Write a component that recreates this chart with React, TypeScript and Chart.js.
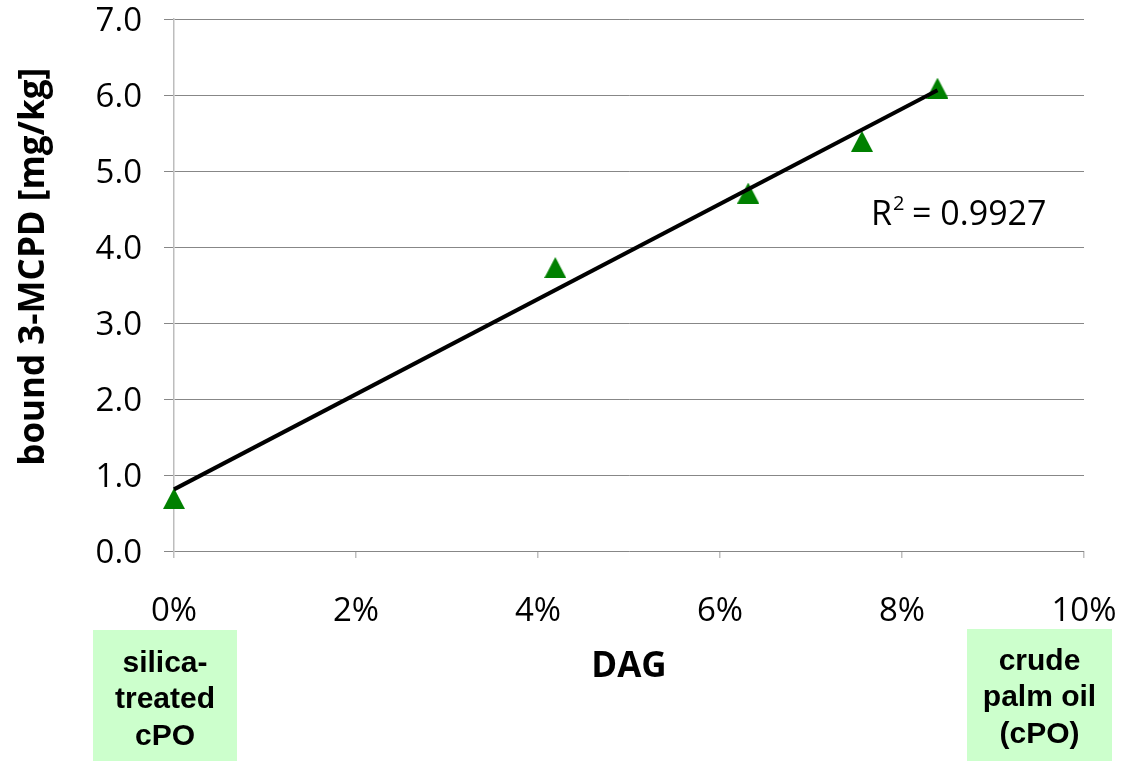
import React, { useEffect, useRef } from "react";
import { Chart, registerables } from "chart.js";

Chart.register(...registerables);

// DAG content (%) and bound 3-MCPD (mg/kg) for the oil samples
const DAG_PERCENT = [0, 4.19, 6.31, 7.56, 8.39];
const MCPD_MG_KG = [0.69, 3.73, 4.71, 5.39, 6.09];

const X_TICKS = [0, 2, 4, 6, 8, 10];
const Y_TICKS = [0, 1, 2, 3, 4, 5, 6, 7];

const R2_VALUE = "0.9927";
const LEFT_NOTE = ["silica-", "treated", "cPO"];
const RIGHT_NOTE = ["crude", "palm oil", "(cPO)"];

const W = 1121;
const H = 761;
const TICK_FONT = '"Open Sans", sans-serif';
const NOTE_FONT = '"Liberation Sans", Arial, sans-serif';

// least-squares fit through the samples
function linearFit(xs: number[], ys: number[]) {
  const n = xs.length;
  const mx = xs.reduce((a, b) => a + b, 0) / n;
  const my = ys.reduce((a, b) => a + b, 0) / n;
  let sxy = 0;
  let sxx = 0;
  for (let i = 0; i < n; i++) {
    sxy += (xs[i] - mx) * (ys[i] - my);
    sxx += (xs[i] - mx) * (xs[i] - mx);
  }
  const slope = sxy / sxx;
  return { slope, intercept: my - slope * mx };
}

function triangleMarker(w: number, h: number, color: string) {
  const c = document.createElement("canvas");
  c.width = w;
  c.height = h;
  const g = c.getContext("2d")!;
  g.fillStyle = color;
  g.beginPath();
  g.moveTo(w / 2, 0);
  g.lineTo(w, h);
  g.lineTo(0, h);
  g.closePath();
  g.fill();
  return c;
}

const notesPlugin = {
  id: "notes",
  afterDraw(chart: any) {
    const ctx: CanvasRenderingContext2D = chart.ctx;
    const xs = chart.scales.x;
    const ys = chart.scales.y;
    ctx.save();

    // R² label next to the fit line
    const px = xs.getPixelForValue(7.66);
    const py = ys.getPixelForValue(4.29);
    ctx.fillStyle = "#000";
    ctx.textBaseline = "alphabetic";
    ctx.textAlign = "left";
    ctx.font = `34px ${TICK_FONT}`;
    ctx.fillText("R", px, py);
    const rw = ctx.measureText("R").width;
    ctx.font = `20px ${TICK_FONT}`;
    ctx.fillText("2", px + rw + 1, py - 15);
    ctx.font = `34px ${TICK_FONT}`;
    ctx.fillText("= " + R2_VALUE, px + rw + 20, py);

    // sample boxes under the axis ends
    const boxes = [
      { left: 93, right: 237, top: 630, lines: LEFT_NOTE, ys: [664, 700, 737] },
      { left: 967, right: 1112, top: 629, lines: RIGHT_NOTE, ys: [662, 698, 735] },
    ];
    for (const b of boxes) {
      ctx.fillStyle = "#ccffcc";
      ctx.fillRect(b.left, b.top, b.right - b.left, H - b.top);
      ctx.fillStyle = "#000";
      ctx.font = `bold 30px ${NOTE_FONT}`;
      ctx.textAlign = "center";
      ctx.textBaseline = "middle";
      b.lines.forEach((t, i) => ctx.fillText(t, (b.left + b.right) / 2, b.ys[i]));
    }
    ctx.restore();
  },
};

export default function App() {
  const ref = useRef<HTMLCanvasElement>(null);

  useEffect(() => {
    const fit = linearFit(DAG_PERCENT, MCPD_MG_KG);
    const xEnd = Math.max(...DAG_PERCENT);
    const xStart = Math.min(...DAG_PERCENT);

    const zeroPadding = (s: any) => {
      s.paddingTop = 0;
      s.paddingBottom = 0;
      s.paddingLeft = 0;
      s.paddingRight = 0;
    };

    const chart = new Chart(ref.current!, {
      type: "scatter",
      data: {
        datasets: [
          {
            type: "line",
            label: "Linear fit",
            data: [
              { x: xStart, y: fit.intercept + fit.slope * xStart },
              { x: xEnd, y: fit.intercept + fit.slope * xEnd },
            ],
            borderColor: "#000",
            borderWidth: 4,
            pointRadius: 0,
            fill: false,
            clip: false,
            order: 0,
          } as any,
          {
            label: "bound 3-MCPD",
            data: DAG_PERCENT.map((x, i) => ({ x, y: MCPD_MG_KG[i] })),
            pointStyle: triangleMarker(22, 21, "#008000") as any,
            pointRadius: 11,
            clip: false,
            order: 1,
          } as any,
        ],
      },
      options: {
        animation: false,
        responsive: false,
        layout: { padding: { left: 0, top: 19, right: 37, bottom: 0 } },
        plugins: {
          legend: { display: false },
          tooltip: { enabled: false },
        },
        scales: {
          x: {
            type: "linear",
            min: 0,
            max: 10,
            afterBuildTicks: (s: any) => {
              s.ticks = X_TICKS.map((v) => ({ value: v }));
            },
            afterFit: (s: any) => {
              s.height = 210;
              zeroPadding(s);
            },
            grid: {
              drawOnChartArea: false,
              drawTicks: true,
              tickLength: 7,
              color: "#bfbfbf",
              lineWidth: 1.5,
            },
            border: { display: false },
            ticks: {
              padding: 34,
              color: "#000",
              font: { family: TICK_FONT, size: 33 },
              maxRotation: 0,
              callback: (v: any) => `${v}%`,
            },
            title: {
              display: true,
              text: "DAG",
              color: "#000",
              font: { family: TICK_FONT, size: 35, weight: "bold" },
              padding: { top: 0, bottom: 73 },
            },
          },
          y: {
            type: "linear",
            min: 0,
            max: 7,
            afterBuildTicks: (s: any) => {
              s.ticks = Y_TICKS.map((v) => ({ value: v }));
            },
            afterFit: (s: any) => {
              s.width = 174;
              zeroPadding(s);
            },
            grid: {
              color: "#878787",
              lineWidth: 1,
              tickLength: 10,
            },
            border: { display: true, color: "#bdbdbd", width: 1.5 },
            ticks: {
              padding: 22,
              labelOffset: 3,
              color: "#000",
              font: { family: TICK_FONT, size: 33 },
              callback: (v: any) => Number(v).toFixed(1),
            },
            title: {
              display: true,
              text: "    bound 3-MCPD [mg/kg]",
              color: "#000",
              font: { family: TICK_FONT, size: 35, weight: "bold" },
              padding: { top: 13, bottom: 0 },
            },
          },
        },
      },
      plugins: [notesPlugin],
    });

    return () => chart.destroy();
  }, []);

  return (
    <div style={{ position: "absolute", left: 0, top: 0, width: W, height: H, background: "#fff" }}>
      <canvas ref={ref} width={W} height={H} style={{ display: "block" }} />
    </div>
  );
}
